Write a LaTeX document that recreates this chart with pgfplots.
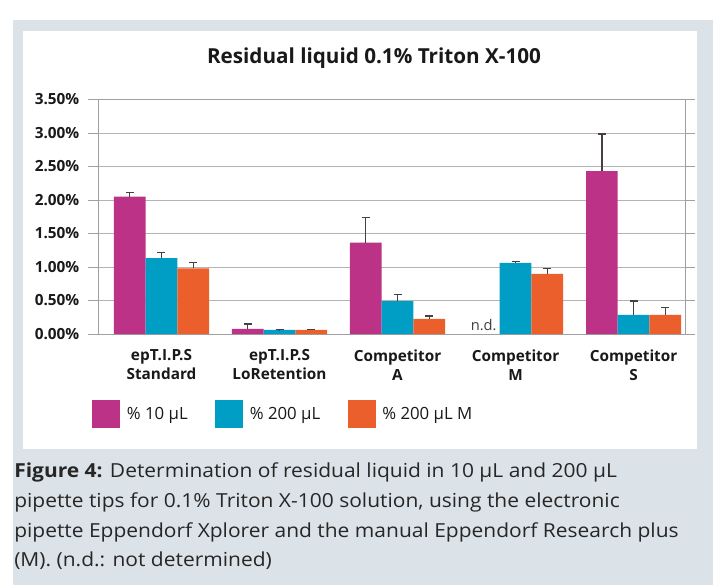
\documentclass[border=0pt]{standalone}
\usepackage{fontspec}
\setmainfont{Open Sans}
\newfontfamily\capfont[FakeStretch=1.085]{Open Sans}
\usepackage{pgfplots}
\pgfplotsset{compat=1.18}
\definecolor{bggray}{HTML}{DCE3E8}
\definecolor{cMag}{HTML}{BB3287}
\definecolor{cCyan}{HTML}{009DC4}
\definecolor{cOrange}{HTML}{EA5F2C}
\definecolor{gridc}{HTML}{B4B4B4}
\definecolor{axisc}{HTML}{A0A0A0}
\definecolor{errc}{HTML}{4A3F3F}
\begin{document}
\begin{tikzpicture}
\path (0,0) rectangle (534.75pt,-438.75pt);
\fill[bggray] (9.75pt,-15pt) rectangle (534.75pt,-438.75pt);
\fill[white] (17.25pt,-23.25pt) rectangle (522.75pt,-336.75pt);
\node[anchor=base, font=\fontsize{15.5}{18}\selectfont\bfseries, text=black!90] at (280.5pt,-47.5pt) {Residual liquid 0.1\% Triton X-100};
\begin{axis}[
  at={(73.5pt,-250.5pt)}, anchor=south west,
  scale only axis, width=440.25pt, height=175.875pt,
  ybar, bar width=0.2686,
  xmin=-0.538, xmax=4.436,
  ymin=0, ymax=3.5,
  enlargelimits=false,
  ytick={0,0.5,...,3.5},
  /pgf/number format/assume math mode=true,
  yticklabel={\pgfmathprintnumber[fixed,fixed zerofill,precision=2]{\tick}\%},
  yticklabel style={font=\fontsize{11.5}{13}\selectfont\bfseries, text=black!90, xshift=-3pt},
  xtick={0,1,2,3,4},
  xticklabels={epT.I.P.S\\Standard, epT.I.P.S\\LoRetention, Competitor\\A, Competitor\\M, Competitor\\S},
  xticklabel style={align=center, font=\fontsize{11.5}{14.3}\selectfont\bfseries, text=black!90, yshift=-0.5pt},
  major x tick style={draw=none},
  ymajorgrids, grid style={gridc, line width=0.75pt},
  axis line style={axisc, line width=0.75pt},
  ytick style={axisc, line width=0.75pt},
  tick align=outside, major tick length=7.5pt,
  legend columns=3,
  legend style={at={(-0.0102,-0.341)}, anchor=west, draw=none, fill=none, inner sep=0pt,
    font=\fontsize{12.6}{14}\selectfont, text=black!90,
    /tikz/every odd column/.append style={column sep=3pt},
    /tikz/every even column/.append style={column sep=18.5pt}},
  legend image code/.code={\fill[#1] (0pt,-10.5pt) rectangle (21pt,10.5pt);},
  error bars/y dir=plus, error bars/y explicit,
  error bars/error bar style={errc, line width=1pt},
  error bars/error mark options={errc, line width=1pt, mark size=3pt, rotate=90},
]
\addplot[fill=cMag, draw=none, bar shift=-0.2686] coordinates {
 (0,2.05) +- (0,0.066)
 (1,0.075) +- (0,0.075)
 (2,1.363) +- (0,0.38)
 (4,2.43) +- (0,0.555)
};
\addlegendentry{\% 10 µL}
\addplot[fill=cCyan, draw=none, bar shift=0] coordinates {
 (0,1.134) +- (0,0.085)
 (1,0.06) +- (0,0.006)
 (2,0.49) +- (0,0.10)
 (3,1.06) +- (0,0.02)
 (4,0.284) +- (0,0.21)
};
\addlegendentry{\% 200 µL}
\addplot[fill=cOrange, draw=none, bar shift=0.2686] coordinates {
 (0,0.98) +- (0,0.085)
 (1,0.06) +- (0,0.01)
 (2,0.224) +- (0,0.045)
 (3,0.896) +- (0,0.085)
 (4,0.284) +- (0,0.115)
};
\addlegendentry{\% 200 µL M}
\node[anchor=south, font=\fontsize{11}{13}\selectfont, text=black!75, yshift=-1pt] at (axis cs:2.73,0) {n.d.};
\end{axis}
\begin{scope}[every node/.style={anchor=base west, inner sep=0pt, font=\capfont\fontsize{14.5}{17}\selectfont, text=black!85}]
\node at (10.5pt,-358.3pt) {\textbf{Figure 4:} Determination of residual liquid in 10 µL and 200 µL};
\node at (10.5pt,-380.55pt) {pipette tips for 0.1\% Triton X-100 solution, using the electronic};
\node at (10.5pt,-402.8pt) {pipette Eppendorf Xplorer and the manual Eppendorf Research plus};
\node at (10.5pt,-425.1pt) {(M). (n.d.: not determined)};
\end{scope}
\end{tikzpicture}
\end{document}
